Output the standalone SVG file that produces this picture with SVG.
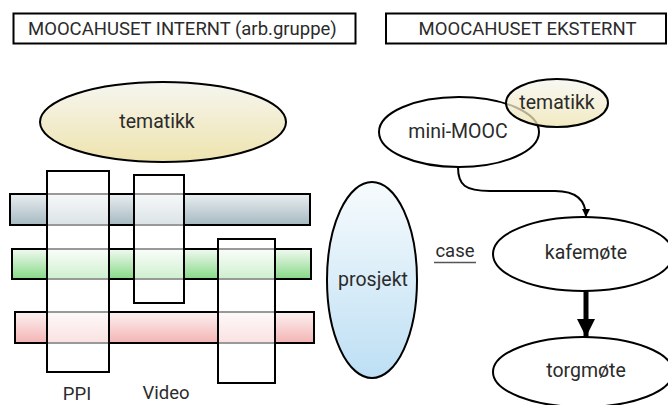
<svg xmlns="http://www.w3.org/2000/svg" width="668" height="405" viewBox="0 0 668 405">
<defs>
<linearGradient id="gCream" x1="0" y1="0" x2="0" y2="1"><stop offset="0" stop-color="#f6f6f0"/><stop offset="1" stop-color="#eee3ae"/></linearGradient>
<linearGradient id="gBlue" x1="0" y1="0" x2="0" y2="1"><stop offset="0" stop-color="#e9eef0"/><stop offset="1" stop-color="#a6b9c1"/></linearGradient>
<linearGradient id="gGreen" x1="0" y1="0" x2="0" y2="1"><stop offset="0" stop-color="#f2faf2"/><stop offset="1" stop-color="#86d886"/></linearGradient>
<linearGradient id="gPink" x1="0" y1="0" x2="0" y2="1"><stop offset="0" stop-color="#fcf1f1"/><stop offset="1" stop-color="#f4b4b4"/></linearGradient>
<linearGradient id="gSky" x1="0" y1="0" x2="0" y2="1"><stop offset="0" stop-color="#f7fbfd"/><stop offset="1" stop-color="#bddff4"/></linearGradient>
<marker id="arrS" viewBox="0 0 10 10" refX="10" refY="5" markerWidth="8" markerHeight="10" markerUnits="userSpaceOnUse" orient="auto"><path d="M0,0 L10,5 L0,10 Z" fill="#000"/></marker>
<marker id="arrB" viewBox="0 0 10 10" refX="10" refY="5" markerWidth="20" markerHeight="18" markerUnits="userSpaceOnUse" orient="auto"><path d="M0,0 L10,5 L0,10 Z" fill="#000"/></marker>
</defs>
<style>
text{font-family:Roboto,"Liberation Sans",sans-serif;fill:#2b2b2b;}
.t{font-size:18.5px;}
.n{font-size:19.5px;text-anchor:middle;}
.box{fill:#fff;stroke:#000;stroke-width:2;}
.bar{stroke:#000;stroke-width:2;}
.col{fill:#fff;fill-opacity:0.6;stroke:#000;stroke-width:2;}
.el{stroke:#000;stroke-width:2;}
</style>
<rect width="668" height="405" fill="#fff"/>
<g id="title-internt"><rect class="box" x="13.5" y="13.5" width="342" height="30"/><text class="t" x="28" y="34.5">MOOCAHUSET INTERNT (arb.gruppe)</text></g>
<g id="title-eksternt"><rect class="box" x="386" y="13.5" width="280" height="30"/><text class="t" x="527.5" y="34.5" text-anchor="middle">MOOCAHUSET EKSTERNT</text></g>
<g id="tematikk-left"><ellipse class="el" cx="163" cy="122" rx="123" ry="40" fill="url(#gCream)"/><text class="n" x="157" y="128">tematikk</text></g>
<g id="bar-blue"><rect class="bar" x="10" y="194" width="300" height="31" fill="url(#gBlue)"/></g>
<g id="bar-green"><rect class="bar" x="12" y="249" width="299" height="30" fill="url(#gGreen)"/></g>
<g id="bar-pink"><rect class="bar" x="15" y="312" width="299" height="31" fill="url(#gPink)"/></g>
<g id="col-ppi"><rect class="col" x="47" y="171" width="62" height="201"/><text class="t" x="77" y="400" text-anchor="middle">PPI</text></g>
<g id="col-video"><rect class="col" x="134" y="175" width="50" height="128"/><text class="t" x="166" y="399" text-anchor="middle">Video</text></g>
<g id="col-3"><rect class="col" x="218" y="239" width="57" height="144"/></g>
<g id="prosjekt"><ellipse class="el" cx="372" cy="280" rx="45" ry="98" fill="url(#gSky)"/><text class="n" x="373" y="286">prosjekt</text></g>
<g id="case"><text class="t" x="455" y="257" text-anchor="middle">case</text><line x1="434" y1="262.5" x2="476" y2="262.5" stroke="#555" stroke-width="1.5"/></g>
<g id="mini-mooc"><ellipse class="el" cx="459" cy="132" rx="80" ry="35" fill="#fff"/><text class="n" x="458" y="138">mini-MOOC</text></g>
<g id="tematikk-right"><ellipse class="el" cx="557" cy="103" rx="51" ry="24" fill="url(#gCream)" fill-opacity="0.75"/><text class="n" x="557" y="109">tematikk</text></g>
<g id="kafemote"><ellipse class="el" cx="583" cy="254" rx="90" ry="37" fill="#fff"/><text class="n" x="586" y="259">kafemøte</text></g>
<g id="torgmote"><ellipse class="el" cx="583" cy="372" rx="90" ry="35" fill="#fff"/><text class="n" x="586" y="377">torgmøte</text></g>
<g id="connectors" fill="none" stroke="#000">
<path d="M458,167 C458,185 465,191 490,191 L555,191 C575,191 586,199 586,217" stroke-width="2" marker-end="url(#arrS)"/>
<path d="M586,291 L586,337" stroke-width="5" marker-end="url(#arrB)"/>
</g>
</svg>
